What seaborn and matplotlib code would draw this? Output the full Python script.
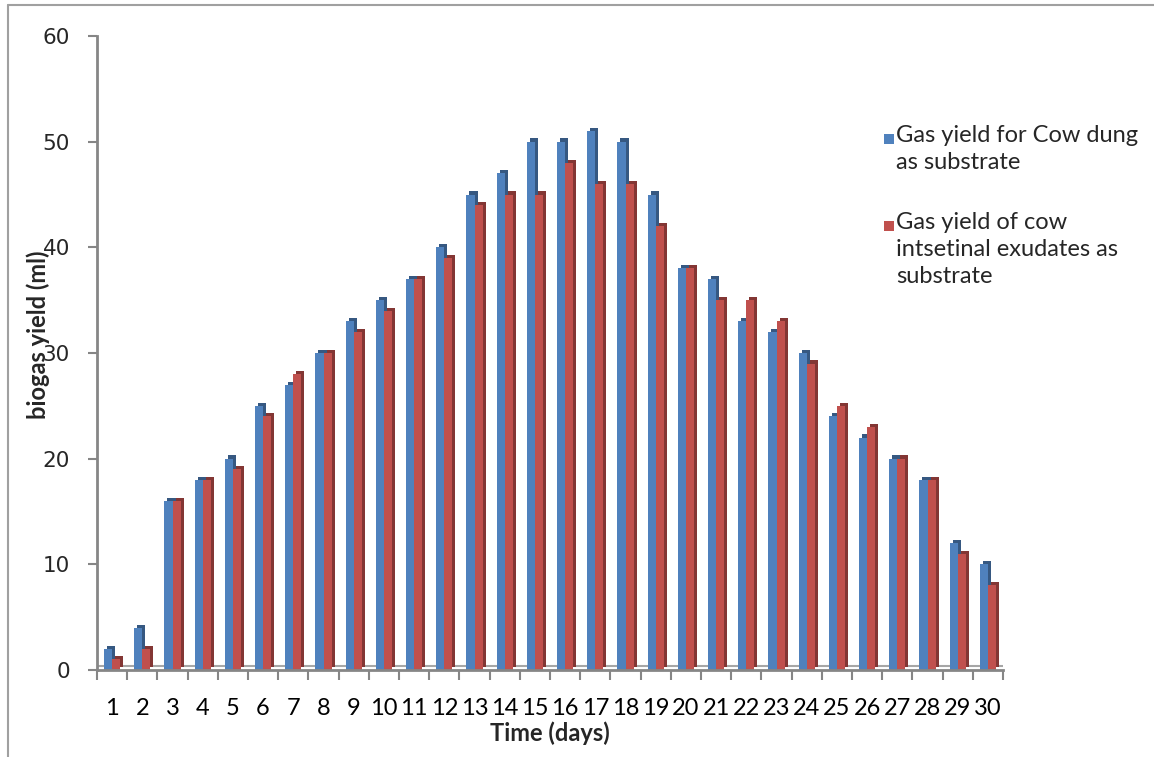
import numpy as np
import pandas as pd
import seaborn as sns
import matplotlib.pyplot as plt
from matplotlib.patches import Rectangle
from matplotlib.lines import Line2D
from matplotlib.colors import to_rgb

### DATA ###########
days = list(range(1, 31))
cow_dung = [2, 4, 16, 18, 20, 25, 27, 30, 33, 35, 37, 40, 45, 47, 50,
            50, 51, 50, 45, 38, 37, 33, 32, 30, 24, 22, 20, 18, 12, 10]
exudates = [1, 2, 16, 18, 19, 24, 28, 30, 32, 34, 37, 39, 44, 45, 45,
            48, 46, 46, 42, 38, 35, 35, 33, 29, 25, 23, 20, 18, 11, 8]
series_names = ["Gas yield for Cow dung\nas substrate",
                "Gas yield of cow\nintsetinal exudates as\nsubstrate"]
colors = ["#4F81BD", "#C0504D"]
####################

W, H = 1154, 757

df = pd.DataFrame({
    "day": days * 2,
    "yield": cow_dung + exudates,
    "series": [series_names[0]] * len(days) + [series_names[1]] * len(days),
})

sns.set_style("white")
plt.rcParams['font.family'] = ['Lato', 'DejaVu Sans']

fig = plt.figure(figsize=(W / 100, H / 100), dpi=100)
ax = fig.add_axes([97 / W, 1 - 670 / H, 906 / W, 634 / H])

sns.barplot(data=df, x="day", y="yield", hue="series", palette=colors,
            width=0.54, dodge=True, legend=False, ax=ax, saturation=1,
            linewidth=0)

# fake 3D: dark side/top shadow behind each bar
dx, dy = 0.1, 0.3
for p in list(ax.patches):
    fc = np.array(to_rgb(p.get_facecolor())) * 0.68
    ax.add_patch(Rectangle((p.get_x() + dx, p.get_y() + dy), p.get_width(),
                           p.get_height(), facecolor=fc, edgecolor="none",
                           zorder=p.get_zorder() - 0.1))

# back edge of the 3D floor
ax.axhline(0.4, color="#A6A6A6", lw=1.5, zorder=0.5)

ax.set_xlim(-0.5, 29.5)
ax.set_ylim(0, 60)
ax.set_yticks(range(0, 61, 10))
ax.set_xticks(range(30))
ax.set_xticklabels([str(d) for d in days])
ax.set_xticks(np.arange(-0.5, 30, 1), minor=True)
ax.tick_params(axis="x", which="major", length=0, labelsize=17, pad=20,
               labelcolor="black")
ax.tick_params(axis="x", which="minor", length=7, color="#868686",
               width=1.5, direction="out", bottom=True)
ax.tick_params(axis="y", length=6.5, width=1.5, color="#868686",
               labelsize=15.5, left=True, direction="out", pad=13)
for lab in ax.get_yticklabels():
    lab.set_family("DejaVu Sans")

for s in ["top", "right"]:
    ax.spines[s].set_visible(False)
for s in ["left", "bottom"]:
    ax.spines[s].set_color("#868686")
    ax.spines[s].set_linewidth(2)

ax.set_xlabel("Time (days)", fontsize=17, fontweight="bold")
ax.set_ylabel("biogas yield (ml)", fontsize=17, fontweight="bold")
ax.xaxis.label.set_va("center")
ax.xaxis.set_label_coords(0.5, -(733 - 670) / 634)
ax.yaxis.label.set_va("center")
ax.yaxis.set_label_coords(-(97 - 38) / 906, 0.5 + (354 - 336) / 634)

# legend, marker next to the first line of each entry
tops = [125, 212]
for name, c, top in zip(series_names, colors, tops):
    fig.patches.append(Rectangle((884 / W, 1 - (top + 19) / H), 10 / W, 10 / H,
                                 transform=fig.transFigure, facecolor=c,
                                 edgecolor="none"))
    fig.text(896 / W, 1 - top / H, name, fontsize=17, va="top", ha="left",
             linespacing=1.35)

# outer chart frame (partial, as in the cropped original)
fig.add_artist(Line2D([8 / W, 1.0], [1 - 5 / H, 1 - 5 / H], color="#A0A0A0", lw=1.5))
fig.add_artist(Line2D([8 / W, 8 / W], [0.0, 1 - 5 / H], color="#A0A0A0", lw=1.5))

fig.savefig("out.png", dpi=100)
